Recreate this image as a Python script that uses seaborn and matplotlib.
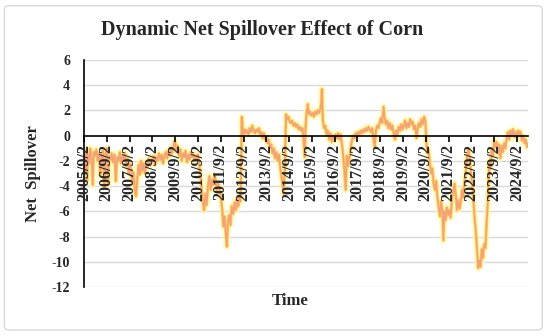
import pandas as pd
import seaborn as sns
import matplotlib.pyplot as plt
from matplotlib.patches import FancyBboxPatch
from matplotlib.ticker import FixedLocator, FixedFormatter
import matplotlib.dates as mdates

# Net spillover of corn
dates = [
    "2005-09-02", "2005-09-20", "2005-10-05", "2005-10-20", "2005-11-05", "2005-11-25", "2005-12-10",
    "2006-01-01", "2006-01-20", "2006-02-05", "2006-03-01", "2006-03-20", "2006-04-10", "2006-05-01",
    "2006-05-20", "2006-06-10", "2006-07-01", "2006-07-25", "2006-08-15", "2006-09-02",
    "2006-09-20", "2006-10-10", "2006-11-01", "2006-11-20", "2006-12-10", "2007-01-05", "2007-01-25",
    "2007-02-15", "2007-03-10", "2007-04-01", "2007-04-20", "2007-05-10", "2007-06-01", "2007-06-20",
    "2007-07-10", "2007-08-01", "2007-08-20", "2007-09-02",
    "2007-09-25", "2007-10-15", "2007-11-05", "2007-11-25", "2007-12-15", "2008-01-05", "2008-01-25",
    "2008-02-15", "2008-03-05", "2008-03-25", "2008-04-15", "2008-05-05", "2008-05-25", "2008-06-15",
    "2008-07-05", "2008-07-25", "2008-08-15", "2008-09-02",
    "2008-09-25", "2008-10-15", "2008-11-05", "2008-11-25", "2008-12-15", "2009-01-10", "2009-02-01",
    "2009-02-20", "2009-03-15", "2009-04-05", "2009-04-25", "2009-05-15", "2009-06-05", "2009-06-25",
    "2009-07-15", "2009-08-05", "2009-08-25", "2009-09-05",
    "2009-09-25", "2009-10-15", "2009-11-05", "2009-11-25", "2009-12-15", "2010-01-05", "2010-01-25",
    "2010-02-15", "2010-03-10", "2010-04-01", "2010-04-20", "2010-05-10", "2010-06-01", "2010-06-20",
    "2010-07-10", "2010-08-01", "2010-08-20", "2010-09-02",
    "2010-09-20", "2010-10-10", "2010-10-30", "2010-11-20", "2010-12-10", "2010-12-30", "2011-01-20",
    "2011-02-10", "2011-03-05", "2011-03-25", "2011-04-15", "2011-05-05", "2011-05-25", "2011-06-15",
    "2011-07-05", "2011-07-25", "2011-08-15", "2011-09-02",
    "2011-09-25", "2011-10-15", "2011-11-05", "2011-11-25", "2011-12-10", "2011-12-25", "2012-01-15",
    "2012-02-05", "2012-02-25", "2012-03-20", "2012-04-10", "2012-05-01", "2012-05-20", "2012-06-10",
    "2012-06-30", "2012-07-15", "2012-07-28", "2012-08-05", "2012-08-20", "2012-09-02",
    "2012-09-20", "2012-10-10", "2012-10-30", "2012-11-20", "2012-12-10", "2013-01-01", "2013-01-20",
    "2013-02-10", "2013-03-05", "2013-03-25", "2013-04-15", "2013-05-05", "2013-05-25", "2013-06-15",
    "2013-07-05", "2013-07-25", "2013-08-15", "2013-09-02",
    "2013-09-20", "2013-10-10", "2013-10-30", "2013-11-20", "2013-12-10", "2014-01-01", "2014-01-20",
    "2014-02-10", "2014-03-05", "2014-03-25", "2014-04-15", "2014-05-10", "2014-06-05", "2014-06-25",
    "2014-07-15", "2014-08-05", "2014-08-25", "2014-09-10",
    "2014-10-01", "2014-10-20", "2014-11-10", "2014-12-01", "2014-12-20", "2015-01-10", "2015-02-01",
    "2015-02-20", "2015-03-15", "2015-04-05", "2015-04-25", "2015-05-10", "2015-05-25", "2015-06-10",
    "2015-06-28", "2015-07-15", "2015-08-05", "2015-08-25",
    "2015-09-15", "2015-10-05", "2015-10-25", "2015-11-15", "2015-12-05", "2015-12-25", "2016-01-15",
    "2016-02-01", "2016-02-10", "2016-02-25", "2016-03-15", "2016-04-05", "2016-04-25", "2016-05-15",
    "2016-06-05", "2016-06-25", "2016-07-15", "2016-08-05", "2016-08-25", "2016-09-15",
    "2016-10-05", "2016-10-25", "2016-11-15", "2016-12-05", "2016-12-25", "2017-01-15", "2017-02-05",
    "2017-02-25", "2017-03-15", "2017-04-05", "2017-04-25", "2017-05-15", "2017-06-05", "2017-06-25",
    "2017-07-15", "2017-08-05", "2017-08-25",
    "2017-09-15", "2017-10-05", "2017-10-25", "2017-11-15", "2017-12-05", "2017-12-25", "2018-01-15",
    "2018-02-05", "2018-02-25", "2018-03-15", "2018-04-05", "2018-04-25", "2018-05-15", "2018-06-05",
    "2018-06-25", "2018-07-15", "2018-08-05", "2018-08-25",
    "2018-09-15", "2018-10-05", "2018-10-25", "2018-11-10", "2018-11-30", "2018-12-20", "2019-01-10",
    "2019-02-01", "2019-02-20", "2019-03-15", "2019-04-05", "2019-04-25", "2019-05-15", "2019-06-05",
    "2019-06-25", "2019-07-15", "2019-08-05", "2019-08-25",
    "2019-09-15", "2019-10-05", "2019-10-25", "2019-11-15", "2019-12-05", "2019-12-25", "2020-01-15",
    "2020-02-05", "2020-02-25", "2020-03-15", "2020-04-05", "2020-04-25", "2020-05-15", "2020-06-05",
    "2020-06-25", "2020-07-15", "2020-08-05", "2020-08-25",
    "2020-09-10", "2020-09-25", "2020-10-15", "2020-11-05", "2020-11-25", "2020-12-15", "2021-01-05",
    "2021-01-25", "2021-02-15", "2021-03-05", "2021-03-25", "2021-04-15", "2021-05-05", "2021-05-25",
    "2021-06-10", "2021-06-25", "2021-07-15", "2021-08-05", "2021-08-25",
    "2021-09-15", "2021-10-05", "2021-10-25", "2021-11-15", "2021-12-05", "2021-12-25", "2022-01-15",
    "2022-02-05", "2022-02-25", "2022-03-15", "2022-04-05", "2022-04-25", "2022-05-15", "2022-06-05",
    "2022-06-25", "2022-07-15", "2022-08-05", "2022-08-25",
    "2022-09-15", "2022-10-05", "2022-10-25", "2022-11-15", "2022-12-05", "2022-12-20", "2023-01-05",
    "2023-01-25", "2023-02-15", "2023-03-05", "2023-03-25", "2023-04-15", "2023-05-05", "2023-05-25",
    "2023-06-15", "2023-07-05", "2023-07-25", "2023-08-15", "2023-09-02",
    "2023-09-20", "2023-10-10", "2023-10-30", "2023-11-20", "2023-12-10", "2023-12-30", "2024-01-20",
    "2024-02-10", "2024-03-01", "2024-03-20", "2024-04-10", "2024-04-30", "2024-05-20", "2024-06-10",
    "2024-06-30", "2024-07-20", "2024-08-10", "2024-08-30", "2024-09-20", "2024-10-10", "2024-10-30",
    "2024-11-20", "2024-12-10", "2024-12-30", "2025-01-20", "2025-02-10", "2025-03-01",
]
values = [
    -1.0, -2.8, -1.2, -3.6, -1.5, -2.2, -1.0,
    -1.8, -3.9, -1.3, -1.6, -1.1, -2.0, -1.4,
    -3.2, -1.6, -1.2, -4.1, -1.5, -1.0,
    -3.9, -1.6, -1.9, -1.4, -2.1, -1.5, -3.6,
    -1.7, -2.0, -1.3, -2.2, -1.6, -1.9, -1.4,
    -2.4, -1.8, -3.0, -2.2,
    -2.6, -3.8, -2.9, -4.3, -4.8, -3.4, -2.3,
    -3.1, -2.0, -2.8, -2.2, -3.0, -2.1, -2.5,
    -1.8, -2.3, -1.9, -2.1,
    -1.6, -2.3, -1.7, -2.0, -1.4, -1.9, -1.5,
    -2.2, -1.6, -1.3, -1.8, -1.2, -1.6, -1.0,
    -1.4, -0.9, -0.4, -0.6,
    -1.3, -0.8, -1.6, -1.1, -2.0, -1.4, -1.7,
    -1.2, -2.1, -1.5, -1.9, -1.3, -1.7, -1.4,
    -2.0, -1.6, -1.8, -1.5,
    -2.2, -3.0, -4.2, -5.2, -5.9, -4.6, -5.5,
    -4.0, -3.2, -4.3, -3.5, -3.9, -3.1, -3.6,
    -4.4, -3.8, -4.2, -4.7,
    -5.8, -7.2, -6.4, -8.0, -8.8, -7.0, -6.3,
    -7.1, -5.6, -6.2, -5.3, -5.9, -5.0, -5.6,
    -4.8, -5.2, -1.5, 1.5, 0.3, 0.1,
    0.5, 0.2, 0.4, 0.1, 0.6, 0.3, 0.8,
    0.4, 0.2, 0.5, 0.3, 0.6, 0.1, 0.3,
    -0.2, 0.2, -0.3, -0.1,
    -0.6, -0.3, -1.0, -0.7, -1.4, -1.0, -1.8,
    -1.3, -2.0, -1.5, -2.6, -3.5, -4.6, -2.8,
    1.7, 1.3, 1.5, 1.1,
    1.0, 1.2, 0.8, 1.0, 0.7, 0.9, 0.5,
    0.7, 0.4, 0.6, -0.5, -1.7, 0.8, 1.8,
    2.5, 1.7, 1.9, 1.6,
    1.8, 1.5, 1.9, 1.7, 2.0, 1.8, 2.1,
    2.6, 3.7, 1.2, 0.6, 0.8, 0.1, 0.4,
    -0.3, 0.2, -0.5, 0.0, -0.4, 0.1,
    -0.2, 0.2, -0.3, 0.1, -0.6, -1.5, -2.8,
    -4.3, -1.6, -2.4, -1.8, -1.0, -0.4, 0.0,
    -0.2, 0.2, 0.1,
    0.3, 0.1, 0.4, 0.2, 0.5, 0.3, 0.6,
    0.4, 0.7, 0.5, 0.3, 0.6, -0.2, -0.9,
    0.4, 0.8, 0.6, 1.1,
    1.4, 1.0, 2.3, 1.5, 0.9, 1.2, 0.6,
    1.0, 0.5, 0.8, 0.2, -0.3, 0.4, 0.1,
    0.7, 0.4, 0.9, 0.5,
    0.8, 1.2, 0.6, 1.0, 0.7, 1.3, 0.9,
    1.1, 0.5, 0.8, -0.2, 0.6, 1.0, 0.7,
    1.3, 0.9, 1.5, 1.2,
    -0.5, -1.4, -1.1, -2.2, -3.0, -2.6, -3.8,
    -4.3, -3.6, -4.8, -5.6, -6.4, -5.2, -6.0,
    -8.3, -6.0, -6.7, -5.7, -6.3,
    -5.9, -6.5, -5.0, -4.4, -3.8, -4.6, -5.9,
    -5.1, -5.8, -5.3, -4.3, -4.9, -3.7, -2.8,
    -1.6, -1.1, -1.8, -2.9,
    -3.8, -5.2, -6.6, -7.8, -9.4, -10.5, -9.9,
    -10.4, -9.0, -9.7, -8.6, -8.9, -6.8, -5.1,
    -2.0, -2.6, -1.2, -1.6, -0.4,
    -0.9, -0.5, -1.4, -0.7, -1.8, -0.8, -1.3,
    -0.6, -1.0, -0.2, 0.3, -0.3, 0.4, 0.0,
    0.5, -0.1, 0.3, -0.2, 0.4, 0.1, 0.3,
    -0.4, 0.0, -0.6, -0.3, -0.9, -0.6,
]
assert len(dates) == len(values)

tick_dates = [
    "2005-09-02", "2006-09-02", "2007-09-02", "2008-09-02", "2009-09-02",
    "2010-09-02", "2011-09-02", "2012-09-02", "2013-09-02", "2014-09-02",
    "2015-09-02", "2016-09-02", "2017-09-02", "2018-09-02", "2019-09-02",
    "2020-09-02", "2021-09-02", "2022-09-02", "2023-09-02", "2024-09-02",
]
tick_labels = [
    "2005/9/2", "2006/9/2", "2007/9/2", "2008/9/2", "2009/9/2",
    "2010/9/2", "2011/9/2", "2012/9/2", "2013/9/2", "2014/9/2",
    "2015/9/2", "2016/9/2", "2017/9/2", "2018/9/2", "2019/9/2",
    "2020/9/2", "2021/9/2", "2022/9/2", "2023/9/2", "2024/9/2",
]
y_ticks = [6, 4, 2, 0, -2, -4, -6, -8, -10, -12]

df = pd.DataFrame({"date": pd.to_datetime(dates), "spillover": values})

sns.set_style("white")
plt.rcParams["font.family"] = ["Liberation Serif", "DejaVu Serif"]
plt.rcParams["font.weight"] = "bold"

fig = plt.figure(figsize=(5.5, 3.36), dpi=100)
ax = fig.add_axes([0.1527, 0.1458, 0.8073, 0.6756])

# grid drawn by hand underneath so the axis (and its labels) can sit on top of the line
for v in y_ticks:
    if v != 0:
        ax.axhline(v, color="#d9d9d9", lw=1, zorder=0)

# glow + line layers
sns.lineplot(data=df, x="date", y="spillover", ax=ax, color="#FFF8B0", lw=5, alpha=0.7, zorder=1)
sns.lineplot(data=df, x="date", y="spillover", ax=ax, color="#FFC935", lw=2.2, alpha=0.75, zorder=1.2)
sns.lineplot(data=df, x="date", y="spillover", ax=ax, color="#F4A27A", lw=1.2, zorder=1.4)

ax.set_ylim(-12, 6)
ax.set_xlim(pd.Timestamp("2005-09-02"), pd.Timestamp("2025-02-25"))
ax.set_yticks(y_ticks)
ax.set_yticklabels([str(v) for v in y_ticks], fontsize=10, fontweight="bold")

tick_nums = mdates.date2num(pd.to_datetime(tick_dates))
ax.xaxis.set_major_locator(FixedLocator(tick_nums))
ax.xaxis.set_major_formatter(FixedFormatter(tick_labels))
ax.xaxis.set_minor_locator(FixedLocator([]))
ax.tick_params(axis="x", labelrotation=90)
for lab in ax.get_xticklabels():
    lab.set_fontweight("bold")

ax.grid(False)
ax.set_axisbelow(False)

for s in ["top", "right"]:
    ax.spines[s].set_visible(False)
ax.spines["bottom"].set_position(("data", 0))
ax.spines["bottom"].set_color("black")
ax.spines["bottom"].set_linewidth(1.2)
ax.spines["left"].set_color("black")
ax.spines["left"].set_linewidth(1.2)
ax.tick_params(axis="x", direction="out", length=4, width=1.2, color="black", pad=2,
               bottom=True, labelsize=11.5)
ax.tick_params(axis="y", length=0, pad=10)
ax.set_xlabel("")
ax.set_ylabel("")

fig.text(0.476, 0.911, "Dynamic Net Spillover Effect of Corn", ha="center", va="center",
         fontsize=14.5, fontweight="bold")
fig.text(0.06, 0.484, "Net  Spillover", rotation=90, ha="center", va="center",
         fontsize=12, fontweight="bold")
fig.text(0.527, 0.104, "Time", ha="center", va="center", fontsize=12, fontweight="bold")

fig.patches.append(FancyBboxPatch((0.008, 0.018), 0.978, 0.965, boxstyle="round,pad=0,rounding_size=0.01",
                                  transform=fig.transFigure, fill=False, edgecolor="#d9d9d9", lw=1))

fig.savefig("out.png", dpi=100)
